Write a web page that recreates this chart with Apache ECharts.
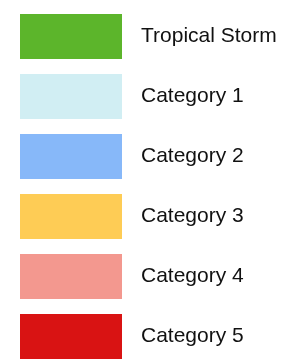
<!DOCTYPE html>
<html>
<head>
<meta charset="utf-8">
<script src="https://cdn.jsdelivr.net/npm/echarts@6/dist/echarts.min.js"></script>
<style>
  html, body { margin: 0; padding: 0; background: #fff; }
  #chart { width: 302px; height: 360px; }
</style>
</head>
<body>
<div id="chart"></div>
<script>
// legend entries and their colours
const categories = ['Tropical Storm', 'Category 1', 'Category 2', 'Category 3', 'Category 4', 'Category 5'];
const colors = ['#5cb52b', '#d1eef3', '#87b8f9', '#fecc55', '#f3988f', '#d91313'];
const values = [[], [], [], [], [], []];

const myChart = echarts.init(document.getElementById('chart'));
myChart.setOption({
    animation: false,
    legend: {
        orient: 'vertical',
        left: 20,
        top: 14,
        padding: 0,
        itemWidth: 102,
        itemHeight: 45,
        itemGap: 15,
        icon: 'rect',
        selectedMode: false,
        data: categories,
        textStyle: {
            fontFamily: 'Liberation Sans, Arial, sans-serif',
            fontSize: 21,
            color: '#111',
            padding: [3, 0, 0, 14]
        }
    },
    grid: { left: 0, right: 0, top: 0, bottom: 0 },
    xAxis: { type: 'category', show: false },
    yAxis: { type: 'value', show: false },
    series: categories.map((name, i) => ({
        name: name,
        type: 'bar',
        data: values[i],
        itemStyle: { color: colors[i] }
    }))
});
</script>
</body>
</html>
